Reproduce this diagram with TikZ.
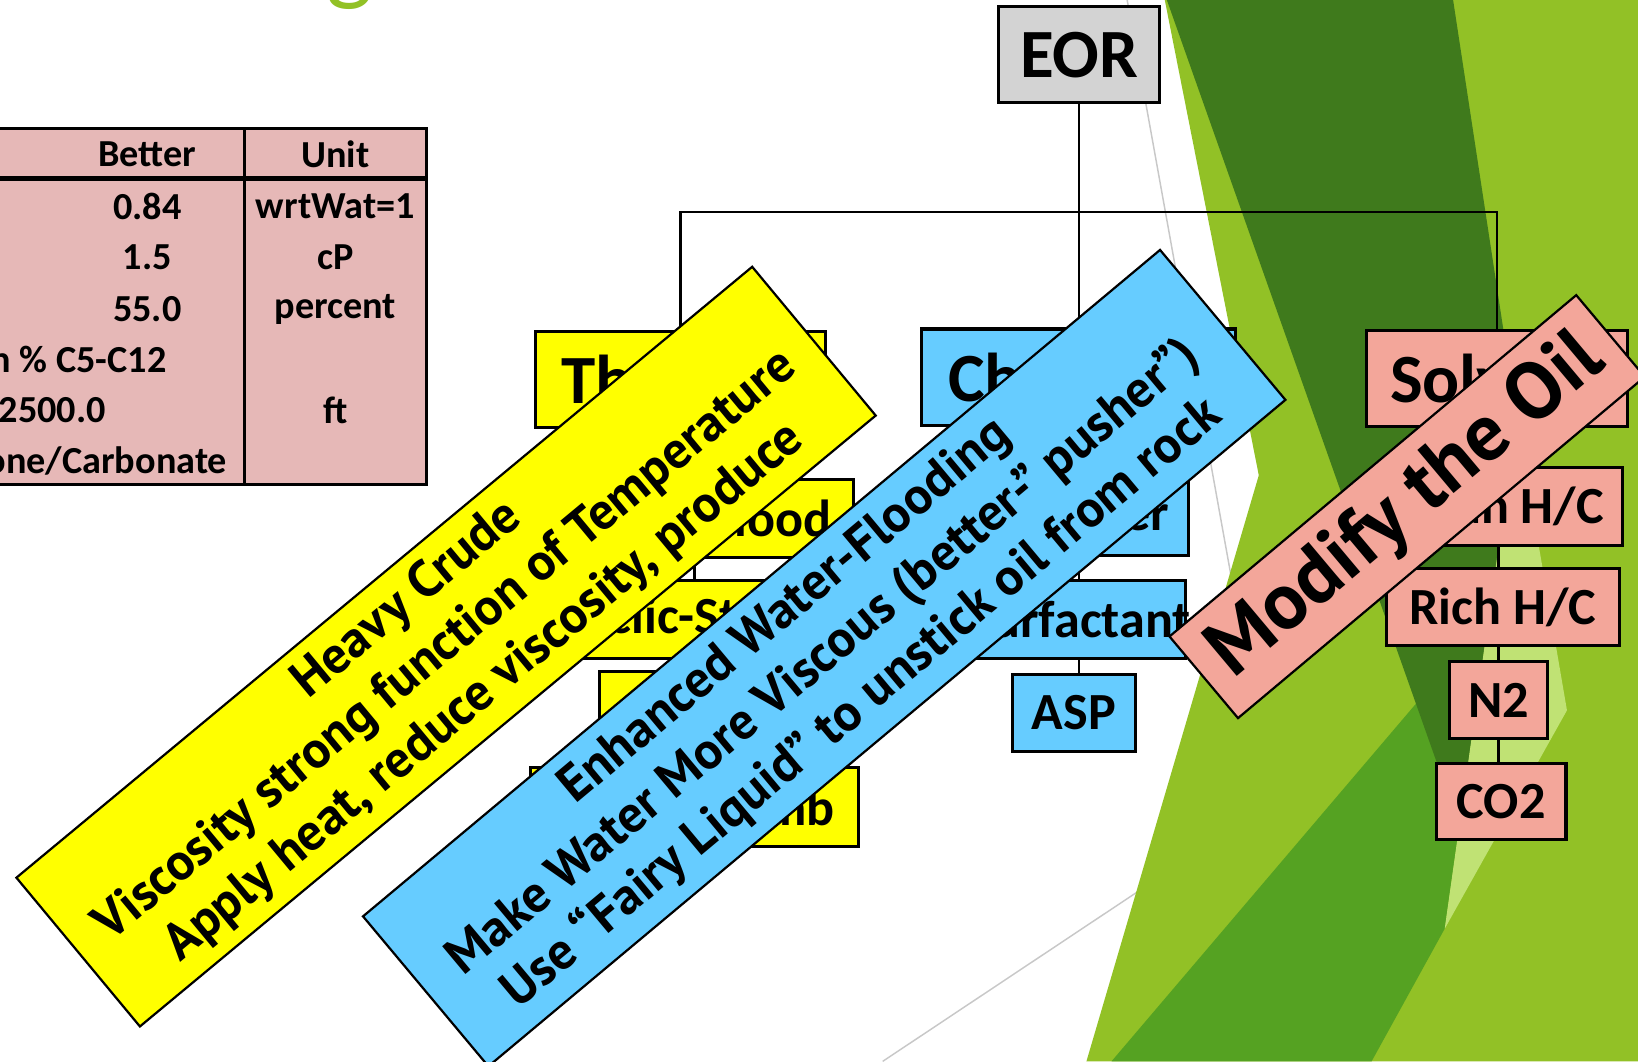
\documentclass[tikz,border=0pt]{standalone}
\usepackage{fontspec}
\setmainfont{Carlito}
\newfontfamily\bannerfont{PT Sans}
\definecolor{eorGrey}{HTML}{D3D3D3}
\definecolor{heatYellow}{HTML}{FFFF00}
\definecolor{chemBlue}{HTML}{66CCFF}
\definecolor{solvPink}{HTML}{F3A69A}
\definecolor{tablePink}{HTML}{E6B8B7}
\definecolor{greenMid}{HTML}{92C126}
\definecolor{greenDark}{HTML}{3F7A1C}
\definecolor{greenDeep}{HTML}{55A222}
\definecolor{greenPale}{HTML}{C0E274}
\definecolor{lineGrey}{HTML}{C8C8C8}

\begin{document}
\begin{tikzpicture}[x=0.01cm,y=-0.01cm]
    \tikzset{
        box/.style={draw, line width=0.85pt, inner sep=0pt, align=center},
        topbox/.style={box, minimum height=9.2mm, font=\fontsize{18.8}{20}\selectfont\bfseries},
        subbox/.style={box, minimum height=7.5mm, font=\fontsize{14.2}{16}\selectfont\bfseries},
        cell/.style={inner sep=0pt, font=\fontsize{10.4}{12}\selectfont\bfseries},
        banner/.style={draw, line width=0.6pt, inner sep=0pt, align=center,
            font=\bannerfont\bfseries\fontsize{14.1}{16.4}\selectfont},
        link/.style={line width=0.7pt}}
    \useasboundingbox (0,0) rectangle (1568,1016);
    \clip (0,0) rectangle (1568,1016);
    % slide background
    \draw[lineGrey, line width=0.4pt] (1079,0) -- (1180,560);
    \draw[lineGrey, line width=0.4pt] (845,1016) -- (1090,853);
    \fill[greenMid] (1115,0) -- (1568,0) -- (1568,1016) -- (1040,1016) -- (1205,455) -- cycle;
    \fill[greenDeep] (1356,673) -- (1397,791) -- (1383,889) -- (1313,1016) -- (1064,1016) -- cycle;
    \fill[greenDark] (1117,0) -- (1391,0) -- (1452,400) -- (1397,791) -- cycle;
    \fill[greenPale] (1452,400) -- (1500,680) -- (1383,889) -- cycle;
    \node[text=greenMid, font=\fontsize{27}{30}\selectfont, anchor=base] (titleg) at (335,-7) {g};

    % table
    \fill[tablePink] (0,123) rectangle (408,464);
    \draw[line width=0.8pt] (0,123) -- (408,123) -- (408,464) -- (0,464) (234,123) -- (234,464);
    \draw[line width=1.2pt] (0,171) -- (408,171);
    \foreach \better/\unit [count=\r from 0] in {Better/Unit, 0.84/{wrtWat=1}, 1.5/cP, 55.0/percent}{
        \node[cell] (better\r) at (141,148+49.3*\r) {\better};
        \node[cell] (unit\r) at (321,148+49.3*\r) {\unit};
    }
    \node[cell, anchor=east] (better4) at (160,344) {n \% C5-C12};
    \node[cell, anchor=east] (better5) at (102,393) {2500.0};
    \node[cell] (unit5) at (321,393) {ft};
    \node[cell, anchor=east] (better6) at (218,441) {one/Carbonate};

    % tree
    \node[topbox, fill=eorGrey, minimum width=15.4mm] (eor) at (1033,52.5) {EOR};
    \node[topbox, fill=heatYellow, minimum width=27.7mm] (thermal) at (651.5,363.5) {Thermal};
    \node[topbox, fill=chemBlue, minimum width=30.1mm] (chemical) at (1032.5,361) {Chemical};
    \node[topbox, fill=solvPink, minimum width=25mm] (solvent) at (1433,362) {Solvent};
    \coordinate (bar) at (1033,203);
    \draw[link] (eor.south) -- (eor.south |- chemical.north);
    \draw[link] (thermal.north) |- (bar) -| (solvent.north);

    \node[subbox, fill=heatYellow, minimum width=30.4mm] (steam) at (665,496.5) {Steam-Flood};
    \node[subbox, fill=heatYellow, minimum width=30.4mm] (cyclic) at (665,593) {Cyclic-Steam};
    \node[subbox, fill=heatYellow, minimum width=18.2mm] (sagd) at (665,680) {};
    \node[subbox, fill=heatYellow, minimum width=31.4mm] (insitu) at (665,772.5) {In-Situ Comb};
    \draw[link] (thermal.south) -- (thermal.south |- steam.north);
    \draw[link] (steam.south) -- (cyclic.north);
    \draw[link] (cyclic.south) -- (sagd.north);
    \draw[link] (sagd.south) -- (insitu.north);

    \node[subbox, fill=chemBlue, minimum width=21mm] (polymer) at (1033,494.5) {Polymer};
    \node[subbox, fill=chemBlue, minimum width=20.4mm] (surfactant) at (1033,593) {\makebox[0pt]{Surfactant}};
    \node[subbox, fill=chemBlue, minimum width=11.8mm, minimum height=7.3mm] (asp) at (1028,682.5) {ASP};
    \draw[link] (chemical.south) -- (polymer.north -| chemical);
    \draw[link] (polymer.south) -- (surfactant.north);
    \draw[link] (surfactant.south) -- (asp.north -| surfactant);

    \node[subbox, fill=solvPink, minimum width=22.4mm] (lean) at (1441,485) {Lean H/C};
    \node[subbox, fill=solvPink, minimum width=22.3mm, minimum height=7.4mm] (rich) at (1438.5,581) {Rich H/C};
    \node[subbox, fill=solvPink, minimum width=9.3mm, minimum height=7.4mm] (ntwo) at (1434.5,670) {N2};
    \node[subbox, fill=solvPink, minimum width=12.4mm, minimum height=7.3mm] (cotwo) at (1437,767.5) {CO2};
    \draw[link] (solvent.south -| ntwo) -- (lean.north -| ntwo);
    \draw[link] (lean.south -| ntwo) -- (rich.north -| ntwo);
    \draw[link] (rich.south -| ntwo) -- (ntwo.north);
    \draw[link] (ntwo.south) -- (cotwo.north -| ntwo);

    % banners
    \node[banner, fill=heatYellow, minimum width=91.5mm, minimum height=18.5mm, rotate=39.7] (heavy) at (427,619)
        {Heavy Crude\\Viscosity strong function of Temperature\\Apply heat, reduce viscosity, produce};
    \node[banner, fill=chemBlue, minimum width=99.4mm, minimum height=18.7mm, rotate=39.9] (flooding) at (789,630)
        {Enhanced Water-Flooding\\Make Water More Viscous (better-” pusher”)\\Use “Fairy Liquid” to unstick oil from rock};
    \node[banner, fill=solvPink, minimum width=50.8mm, minimum height=10.2mm, rotate=40,
        font=\bannerfont\bfseries\fontsize{21.9}{24}\selectfont] (modify) at (1347,485) {Modify the Oil};
\end{tikzpicture}
\end{document}
